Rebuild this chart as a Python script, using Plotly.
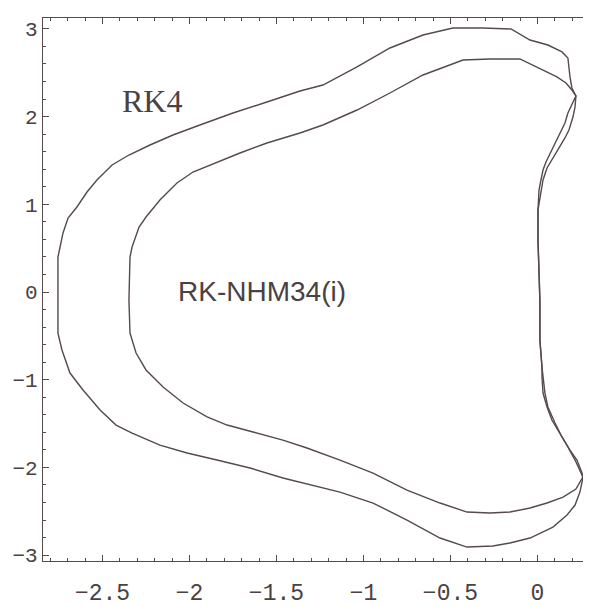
import plotly.graph_objects as go

# RK4 stability boundary
rk4_x = [0.014, 0.009, 0.003, 0.003, 0.009, 0.020, 0.032, 0.055, 0.083, 0.118, 0.158, 0.181, 0.204, 0.216, 0.221,
         0.198, 0.187, 0.175, 0.141, 0.060, -0.043, -0.152, -0.313, -0.486, -0.658, -0.848, -1.037, -1.233, -1.365,
         -1.555, -1.750, -1.940, -2.095, -2.227, -2.348, -2.445, -2.532, -2.589, -2.647, -2.698, -2.727, -2.744,
         -2.756, -2.756, -2.756, -2.733, -2.687, -2.612, -2.514, -2.422, -2.330, -2.170, -2.014, -1.842, -1.652,
         -1.463, -1.325, -1.135, -0.945, -0.750, -0.560, -0.405, -0.256, -0.158, -0.043, 0.089, 0.170, 0.216,
         0.244, 0.261, 0.256, 0.227, 0.187, 0.141, 0.101, 0.060, 0.043, 0.032, 0.026, 0.014, 0.014]
rk4_y = [-0.091, 0.251, 0.593, 0.935, 1.015, 1.163, 1.277, 1.414, 1.505, 1.619, 1.756, 1.847, 1.995, 2.109, 2.235,
         2.326, 2.452, 2.668, 2.737, 2.816, 2.873, 2.999, 3.010, 3.010, 2.930, 2.782, 2.566, 2.360, 2.292,
         2.166, 2.041, 1.904, 1.790, 1.676, 1.562, 1.448, 1.277, 1.140, 0.969, 0.844, 0.673, 0.513,
         0.399, -0.034, -0.468, -0.661, -0.924, -1.117, -1.345, -1.517, -1.608, -1.745, -1.836, -1.916, -2.007,
         -2.121, -2.189, -2.281, -2.406, -2.600, -2.805, -2.908, -2.896, -2.862, -2.805, -2.680, -2.543, -2.429,
         -2.281, -2.121, -2.064, -1.916, -1.802, -1.653, -1.494, -1.311, -1.152, -0.969, -0.855, -0.547, -0.091]

# RK-NHM34(i) stability boundary
nhm_x = [0.014, 0.009, 0.003, 0.003, 0.009, 0.020, 0.032, 0.049, 0.083, 0.118, 0.158, 0.175, 0.198, 0.221,
         0.198, 0.164, 0.112, 0.014, -0.101, -0.273, -0.428, -0.658, -0.848, -1.037, -1.233, -1.365, -1.555,
         -1.710, -1.842, -1.980, -2.072, -2.170, -2.250, -2.290, -2.330, -2.342, -2.348, -2.342, -2.307, -2.250,
         -2.152, -2.037, -1.899, -1.784, -1.635, -1.463, -1.325, -1.135, -0.945, -0.750, -0.560, -0.405, -0.273,
         -0.158, -0.043, 0.055, 0.147, 0.221, 0.261, 0.244, 0.216, 0.175, 0.129, 0.083, 0.055, 0.032, 0.026,
         0.026, 0.014, 0.014]
nhm_y = [-0.091, 0.251, 0.593, 0.935, 1.163, 1.277, 1.391, 1.482, 1.619, 1.767, 1.927, 2.041, 2.132, 2.235,
         2.303, 2.383, 2.452, 2.543, 2.657, 2.657, 2.645, 2.474, 2.269, 2.075, 1.904, 1.813, 1.699,
         1.585, 1.482, 1.368, 1.243, 1.049, 0.855, 0.741, 0.513, 0.399, -0.091, -0.468, -0.696, -0.889,
         -1.083, -1.266, -1.425, -1.517, -1.596, -1.688, -1.779, -1.916, -2.064, -2.258, -2.406, -2.509, -2.520,
         -2.509, -2.463, -2.406, -2.338, -2.246, -2.109, -2.030, -1.916, -1.767, -1.608, -1.460, -1.311, -1.152, -0.969,
         -0.855, -0.547, -0.091]

x_tick_vals = [-2.5, -2, -1.5, -1, -0.5, 0]
x_tick_text = ["\u22122.5", "\u22122", "\u22121.5", "\u22121", "\u22120.5", "0"]
y_tick_vals = [-3, -2, -1, 0, 1, 2, 3]
y_tick_text = ["\u22123", "\u22122", "\u22121", "0", "1", "2", "3"]

labels = ["RK4", "RK-NHM34(i)"]
label_x = [-2.213, -1.586]
label_y = [2.178, 0.011]

line_color = "#564a4a"
text_color = "#4a4242"

fig = go.Figure()
fig.add_trace(go.Scatter(x=rk4_x, y=rk4_y, mode="lines",
                         line=dict(color=line_color, width=1.4), hoverinfo="skip"))
fig.add_trace(go.Scatter(x=nhm_x, y=nhm_y, mode="lines",
                         line=dict(color=line_color, width=1.4), hoverinfo="skip"))

fig.add_annotation(x=label_x[0], y=label_y[0], text=labels[0], showarrow=False,
                   font=dict(family="Liberation Serif", size=32, color=text_color))
fig.add_annotation(x=label_x[1], y=label_y[1], text=labels[1], showarrow=False,
                   font=dict(family="Liberation Sans", size=28, color=text_color))

# the page body adds an 8px offset, so the figure is sized to fit the window
fig.update_layout(
    width=583, height=599,
    margin=dict(l=35, r=1, t=10, b=46, autoexpand=False),
    paper_bgcolor="white", plot_bgcolor="white",
    showlegend=False,
    xaxis=dict(range=[-2.842, 0.302], tickvals=x_tick_vals, ticktext=x_tick_text,
               ticks="inside", ticklen=6, tickwidth=1, tickcolor=line_color,
               minor=dict(dtick=0.1, ticks="inside", ticklen=3, tickcolor=line_color),
               showline=True, linecolor=line_color, linewidth=1.4, mirror="ticks",
               showgrid=False, zeroline=False, ticklabelstandoff=10, automargin=False,
               tickfont=dict(family="Liberation Mono", size=23, color=text_color)),
    yaxis=dict(range=[-3.067, 3.124], tickvals=y_tick_vals, ticktext=y_tick_text,
               ticks="inside", ticklen=6, tickwidth=1, tickcolor=line_color,
               minor=dict(dtick=0.2, ticks="inside", ticklen=3, tickcolor=line_color),
               showline=True, linecolor=line_color, linewidth=1.4, mirror="ticks",
               showgrid=False, zeroline=False, ticklabelstandoff=0, automargin=False,
               tickfont=dict(family="Liberation Mono", size=21, color=text_color)),
)

fig.write_html("out.html")
